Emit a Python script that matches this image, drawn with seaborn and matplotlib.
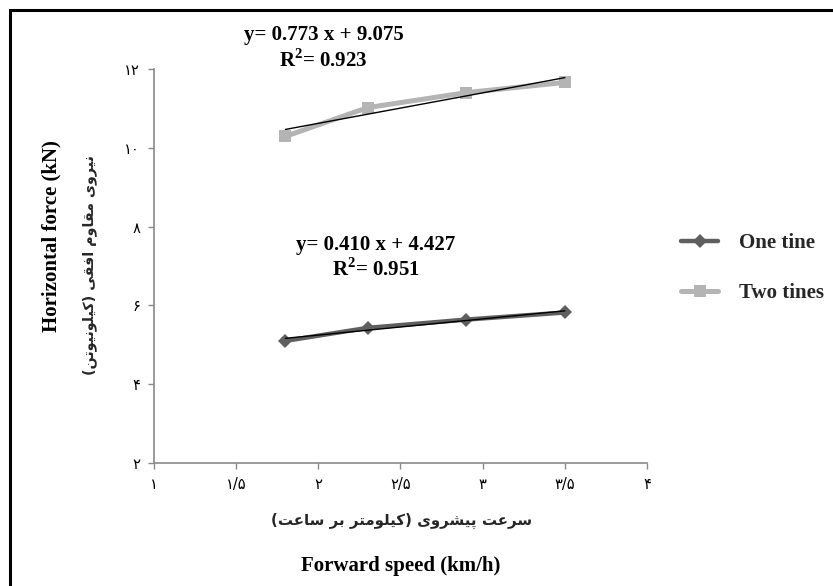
import numpy as np
import pandas as pd
import matplotlib
matplotlib.use("Agg")
import matplotlib.pyplot as plt
from matplotlib.patches import Rectangle
import seaborn as sns

# ---- data -------------------------------------------------------------
speed = [1.8, 2.3, 2.9, 3.5]                      # forward speed (km/h)
force_one_tine = [5.10, 5.43, 5.64, 5.82]         # horizontal force (kN)
force_two_tines = [10.29, 11.02, 11.40, 11.66]    # horizontal force (kN)
series_names = ["One tine", "Two tines"]

# linear fits shown on the chart
fit_one = (0.410, 4.427, 0.951)    # slope, intercept, R^2
fit_two = (0.773, 9.075, 0.923)

x_ticks = [1, 1.5, 2, 2.5, 3, 3.5, 4]
x_tick_labels = ["۱", "۱/۵", "۲", "۲/۵", "۳", "۳/۵", "۴"]
y_ticks = [2, 4, 6, 8, 10, 12]
y_tick_labels = ["۲", "۴", "۶", "۸", "۱۰", "۱۲"]

x_label_en = "Forward speed (km/h)"
x_label_fa = "سرعت پیشروی (کیلومتر بر ساعت)"
y_label_en = "Horizontal force (kN)"
y_label_fa = "نیروی مقاوم افقی (کیلونیوتن)"

# ---- minimal Persian shaping (matplotlib has no bidi / joining) --------
# letter: (isolated, final, initial, medial); None = right-joining only
FORMS = {
    "ا": ("\uFE8D", "\uFE8E", None, None),
    "ب": ("\uFE8F", "\uFE90", "\uFE91", "\uFE92"),
    "پ": ("\uFB56", "\uFB57", "\uFB58", "\uFB59"),
    "ت": ("\uFE95", "\uFE96", "\uFE97", "\uFE98"),
    "ر": ("\uFEAD", "\uFEAE", None, None),
    "س": ("\uFEB1", "\uFEB2", "\uFEB3", "\uFEB4"),
    "ش": ("\uFEB5", "\uFEB6", "\uFEB7", "\uFEB8"),
    "ع": ("\uFEC9", "\uFECA", "\uFECB", "\uFECC"),
    "ف": ("\uFED1", "\uFED2", "\uFED3", "\uFED4"),
    "ق": ("\uFED5", "\uFED6", "\uFED7", "\uFED8"),
    "ک": ("\uFB8E", "\uFB8F", "\uFB90", "\uFB91"),
    "ل": ("\uFEDD", "\uFEDE", "\uFEDF", "\uFEE0"),
    "م": ("\uFEE1", "\uFEE2", "\uFEE3", "\uFEE4"),
    "ن": ("\uFEE5", "\uFEE6", "\uFEE7", "\uFEE8"),
    "و": ("\uFEED", "\uFEEE", None, None),
    "ی": ("\uFBFC", "\uFBFD", "\uFBFE", "\uFBFF"),
}


def shape_fa(text):
    chars = list(text)
    out = []
    for i, c in enumerate(chars):
        if c not in FORMS:
            out.append(c)
            continue
        prev = chars[i - 1] if i > 0 else None
        nxt = chars[i + 1] if i + 1 < len(chars) else None
        joins_prev = prev in FORMS and FORMS[prev][2] is not None
        joins_next = nxt in FORMS and FORMS[c][2] is not None
        iso, fin, ini, med = FORMS[c]
        if joins_prev and joins_next:
            out.append(med)
        elif joins_prev:
            out.append(fin)
        elif joins_next:
            out.append(ini)
        else:
            out.append(iso)
    visual = "".join(reversed(out))
    return visual.translate(str.maketrans("()", ")("))


# ---- figure -----------------------------------------------------------
sns.set_theme(style="white")
plt.rcParams["font.family"] = ["Liberation Serif", "DejaVu Sans"]
plt.rcParams["mathtext.fontset"] = "custom"
plt.rcParams["mathtext.rm"] = "Liberation Serif:bold"
plt.rcParams["mathtext.bf"] = "Liberation Serif:bold"

W, H = 833, 586
fig = plt.figure(figsize=(W / 100, H / 100), dpi=100)
ax = fig.add_axes([154 / W, 1 - 463 / H, (647 - 154) / W, (463 - 69) / H])

df = pd.DataFrame({
    "speed": speed * 2,
    "force": force_one_tine + force_two_tines,
    "series": [series_names[0]] * 4 + [series_names[1]] * 4,
})

palette = {series_names[0]: "#5f5f5f", series_names[1]: "#b4b4b4"}
markers = {series_names[0]: "D", series_names[1]: "s"}
sizes = {series_names[0]: 7, series_names[1]: 9}
widths = {series_names[0]: 3.2, series_names[1]: 3.6}

for name in series_names:
    sub = df[df["series"] == name]
    sns.lineplot(data=sub, x="speed", y="force", ax=ax, color=palette[name],
                 marker=markers[name], markersize=sizes[name],
                 markeredgewidth=0, linewidth=widths[name], label=name,
                 solid_capstyle="round")

# linear trend lines over the measured speed range
xs = np.array([speed[0], speed[-1]])
for slope, icpt, _ in (fit_one, fit_two):
    ax.plot(xs, slope * xs + icpt, color="black", linewidth=1.0, zorder=5)

ax.set_xlim(1, 4)
ax.set_ylim(2, 12)
ax.set_xticks(x_ticks)
ax.set_yticks(y_ticks)
ax.set_xticklabels(x_tick_labels, family="DejaVu Sans", fontsize=10.5)
ax.set_yticklabels(y_tick_labels, family="DejaVu Sans", fontsize=10.5)
ax.set_xlabel("")
ax.set_ylabel("")
for s in ("top", "right"):
    ax.spines[s].set_visible(False)
for s in ("left", "bottom"):
    ax.spines[s].set_color("#8a8a8a")
    ax.spines[s].set_linewidth(1.2)
ax.tick_params(axis="both", which="both", direction="out", length=4,
               width=1, color="#8a8a8a", labelcolor="black", pad=6,
               bottom=True, left=True)

# regression annotations
bold = dict(family="Liberation Serif", fontweight="bold", fontsize=15,
            ha="center", va="center", color="black")
fig.text(324 / W, 1 - 35 / H, f"y= {fit_two[0]:.3f} x + {fit_two[1]:.3f}", **bold)
fig.text(323 / W, 1 - 61 / H, f"R$^{{2}}$= {fit_two[2]:.3f}", **bold)
fig.text(376 / W, 1 - 245 / H, f"y= {fit_one[0]:.3f} x + {fit_one[1]:.3f}", **bold)
fig.text(376 / W, 1 - 270 / H, f"R$^{{2}}$= {fit_one[2]:.3f}", **bold)

# axis titles (English and Persian)
fig.text(401 / W, 1 - 566 / H, x_label_en, **bold)
fig.text(402 / W, 1 - 521 / H, shape_fa(x_label_fa), family="DejaVu Sans",
         fontweight="bold", fontsize=10.8, ha="center", va="center")
fig.text(51 / W, 1 - 236 / H, y_label_en, rotation=90, **bold)
fig.text(90 / W, 1 - 265 / H, shape_fa(y_label_fa), family="DejaVu Sans",
         fontweight="bold", fontsize=10.3, ha="center", va="center", rotation=90)

# legend
leg = ax.legend(loc="center left", bbox_to_anchor=(662 / W, 1 - 268 / H),
                bbox_transform=fig.transFigure, frameon=False,
                prop=dict(family="Liberation Serif", weight="bold", size=15),
                handlelength=1.8, labelspacing=1.45, handletextpad=1.0)

# outer frame of the figure
fig.patches.append(Rectangle((10 / W, -0.05), 1.2, 1 - 10 / H + 0.05,
                             transform=fig.transFigure, fill=False,
                             edgecolor="black", linewidth=2.2))

fig.savefig("out.png", dpi=100)
